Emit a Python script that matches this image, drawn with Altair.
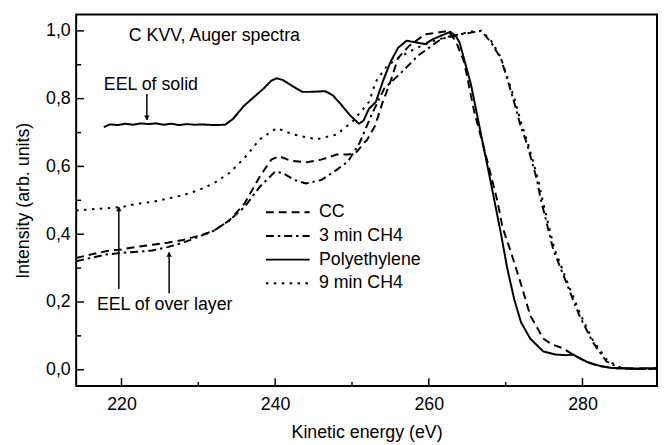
import altair as alt
import pandas as pd

FONT = "Liberation Sans"

# ---- series (Kinetic energy eV, intensity) ----
cc_e = [214.1, 216, 218, 220, 222, 224, 226, 228, 230, 232, 234, 236, 238, 239.5, 240.5, 242, 244, 246, 248, 249.5,
        250.5, 252, 253, 254, 255, 256, 257.4, 259.5, 261.2, 262.5, 263.5, 264.6, 265.9, 267.6, 268.9, 269.6, 270.5,
        271.2, 271.9, 273.2, 274.9, 276, 277.5, 278.8, 280, 281, 282, 284, 286, 289.7]
cc_i = [0.33, 0.34, 0.35, 0.355, 0.363, 0.369, 0.375, 0.383, 0.395, 0.41, 0.44, 0.49, 0.57, 0.62, 0.63, 0.617, 0.612,
        0.62, 0.635, 0.635, 0.64, 0.68, 0.72, 0.79, 0.85, 0.92, 0.955, 0.99, 0.995, 1.0, 0.97, 0.908, 0.762, 0.617,
        0.5, 0.42, 0.36, 0.31, 0.26, 0.16, 0.092, 0.075, 0.063, 0.044, 0.03, 0.02, 0.012, 0.005, 0.003, 0.003]

m3_e = [214.1, 216, 218, 220, 222, 224, 226, 228, 230, 232, 234, 236, 238, 240, 241, 242.5, 244, 246, 248, 249.5,
        251, 252.5, 254.2, 256.5, 258.6, 261.6, 264.2, 266.8, 268.1, 269.4, 270.2, 271.1, 271.9, 272.8, 274.1, 274.5,
        276.2, 277.9, 279.6, 281.3, 283.1, 284.8, 287, 289.7]
m3_i = [0.32, 0.33, 0.34, 0.345, 0.348, 0.352, 0.362, 0.375, 0.392, 0.41, 0.44, 0.48, 0.54, 0.585, 0.58, 0.56, 0.55,
        0.56, 0.59, 0.615, 0.67, 0.75, 0.83, 0.879, 0.927, 0.976, 0.99, 1.0, 0.966, 0.917, 0.859, 0.79, 0.723, 0.665,
        0.558, 0.51, 0.354, 0.257, 0.16, 0.083, 0.025, 0.005, 0.002, 0.003]

pe_e = [217.7, 218.5, 219.5, 220.5, 221.5, 222.5, 223.5, 224.5, 225.5, 226.5, 227.5, 228.5, 229.5, 230.5, 232, 233.5,
        234.5, 236, 238.5, 239.5, 240.2, 241, 242.4, 243.5, 244.5, 246.5, 247.5, 248.5, 249.7, 250.9, 251.5, 252.2,
        253.1, 254, 255, 256, 257.1, 258.3, 259.5, 260.5, 261.5, 262.8, 263.5, 264, 265.5, 266.8, 268.1, 269.4, 270.2,
        271.1, 272, 273.2, 274.9, 276.5, 277.9, 278.8, 279.8, 280.9, 282.5, 283.9, 287, 289.7]
pe_i = [0.716, 0.724, 0.722, 0.726, 0.723, 0.727, 0.725, 0.727, 0.723, 0.726, 0.722, 0.725, 0.723, 0.724, 0.722, 0.723,
        0.74, 0.78, 0.83, 0.853, 0.86, 0.855, 0.835, 0.82, 0.82, 0.822, 0.81, 0.785, 0.752, 0.726, 0.735, 0.77,
        0.79, 0.85, 0.908, 0.95, 0.971, 0.966, 0.961, 0.975, 0.985, 0.997, 0.985, 0.966, 0.84, 0.694, 0.549, 0.40, 0.30,
        0.209, 0.14, 0.092, 0.054, 0.045, 0.043, 0.045, 0.032, 0.02, 0.01, 0.005, 0.004, 0.005]

m9_e = [214.1, 217, 220, 222, 224, 226, 228, 230, 232, 234, 236, 238, 240.2, 242.4, 245.4, 248, 250.1, 252.2, 253.1,
        254.5, 256, 258, 260, 262, 264, 265.5, 266.8, 268, 269.3, 270.2, 271.2, 272, 273, 274.3, 274.7, 276.3, 278,
        279.7, 281.4, 283.2, 285, 287, 289.7]
m9_i = [0.47, 0.475, 0.48, 0.49, 0.495, 0.505, 0.515, 0.53, 0.55, 0.58, 0.625, 0.68, 0.713, 0.694, 0.68, 0.694, 0.733,
        0.79, 0.85, 0.895, 0.92, 0.945, 0.965, 0.98, 0.99, 0.998, 1.0, 0.975, 0.925, 0.865, 0.795, 0.73, 0.66, 0.555,
        0.51, 0.36, 0.26, 0.165, 0.085, 0.028, 0.006, 0.002, 0.002]

series_names = ["CC", "3 min CH4", "Polyethylene", "9 min CH4"]
dash_styles = [[8, 5], [8, 4, 2.5, 4], [1, 0], [2.5, 5.5]]

# legend rows (label positions in data units)
legend_rows = [0.465, 0.395, 0.325, 0.255]
legend_line_e = [238.8, 244.5]
legend_text_e = 245.7

# annotations
note_texts = ["C KVV, Auger spectra", "EEL of solid", "EEL of over layer"]
note_e = [220.95, 217.7, 216.8]
note_i = [0.986, 0.841, 0.191]

arrow_e = [223.3, 219.65, 226.2]
arrow_from = [0.814, 0.238, 0.226]
arrow_to = [0.738, 0.48, 0.346]
arrow_dir = ["down", "up", "up"]

x_major = [220, 240, 260, 280]
x_minor = [230, 250, 270]
y_major = [0.0, 0.2, 0.4, 0.6, 0.8, 1.0]
y_minor = [0.1, 0.3, 0.5, 0.7, 0.9]

X_DOM = [214.1, 289.7]
Y_DOM = [-0.048, 1.048]
W, H = 588, 376

# ---- build tables ----
rows = []
for name, es, is_ in zip(series_names, [cc_e, m3_e, pe_e, m9_e], [cc_i, m3_i, pe_i, m9_i]):
    for k, (e, i) in enumerate(zip(es, is_)):
        rows.append({"series": name, "E": e, "I": i, "k": k})
df = pd.DataFrame(rows)

leg = []
for name, yv in zip(series_names, legend_rows):
    for k, e in enumerate(legend_line_e):
        leg.append({"series": name, "E": e, "I": yv, "k": k})
leg_df = pd.DataFrame(leg)
leg_txt = pd.DataFrame({"label": series_names, "E": [legend_text_e] * 4, "I": legend_rows})

notes_df = pd.DataFrame({"t": note_texts, "E": note_e, "I": note_i})
arrows_df = pd.DataFrame({"E": arrow_e, "I1": arrow_from, "I2": arrow_to, "dir": arrow_dir})
down_df = arrows_df[arrows_df["dir"] == "down"].reset_index(drop=True)
up_df = arrows_df[arrows_df["dir"] == "up"].reset_index(drop=True)

xs = alt.Scale(domain=X_DOM, nice=False, zero=False)
ys = alt.Scale(domain=Y_DOM, nice=False, zero=False)
dash_scale = alt.Scale(domain=series_names, range=dash_styles)

xax = alt.Axis(values=x_major, ticks=False, domain=False, grid=False, labelFontSize=18, labelFont=FONT,
               labelColor="black", labelPadding=10, title="Kinetic energy (eV)", titleFontSize=18,
               titleFont=FONT, titleFontWeight="normal", titleColor="black", titleY=38)
yax = alt.Axis(values=y_major, ticks=False, domain=False, grid=False, labelFontSize=18, labelFont=FONT,
               labelColor="black", labelPadding=6,
               labelExpr="replace(format(datum.value, '.1f'), '.', ',')",
               title="Intensity (arb. units)", titleFontSize=18, titleFont=FONT, titleFontWeight="normal",
               titleColor="black", titleX=-44)

lines = alt.Chart(df).mark_line(color="black", strokeWidth=2, strokeCap="butt").encode(
    x=alt.X("E:Q", scale=xs, axis=xax),
    y=alt.Y("I:Q", scale=ys, axis=yax),
    strokeDash=alt.StrokeDash("series:N", scale=dash_scale, legend=None),
    detail="series:N",
    order="k:Q",
)

leg_lines = alt.Chart(leg_df).mark_line(color="black", strokeWidth=2, strokeCap="butt").encode(
    x=alt.X("E:Q", scale=xs),
    y=alt.Y("I:Q", scale=ys),
    strokeDash=alt.StrokeDash("series:N", scale=dash_scale, legend=None),
    detail="series:N",
    order="k:Q",
)

leg_labels = alt.Chart(leg_txt).mark_text(align="left", baseline="middle", fontSize=18, font=FONT,
                                          color="black").encode(
    x=alt.X("E:Q", scale=xs), y=alt.Y("I:Q", scale=ys), text="label:N")

notes = alt.Chart(notes_df).mark_text(align="left", baseline="middle", fontSize=18, font=FONT,
                                      color="black").encode(
    x=alt.X("E:Q", scale=xs), y=alt.Y("I:Q", scale=ys), text="t:N")

shafts = alt.Chart(arrows_df).mark_rule(color="black", strokeWidth=1.5).encode(
    x=alt.X("E:Q", scale=xs), y=alt.Y("I1:Q", scale=ys), y2="I2:Q")

heads_down = alt.Chart(down_df).mark_point(
    shape="triangle-down", size=22, filled=True, fill="black", stroke="black", strokeWidth=0.5,
    opacity=1, yOffset=-2).encode(
    x=alt.X("E:Q", scale=xs), y=alt.Y("I2:Q", scale=ys))
heads_up = alt.Chart(up_df).mark_point(
    shape="triangle-up", size=22, filled=True, fill="black", stroke="black", strokeWidth=0.5,
    opacity=1, yOffset=2).encode(
    x=alt.X("E:Q", scale=xs), y=alt.Y("I2:Q", scale=ys))

# inward ticks
xt_major = pd.DataFrame({"v": x_major})
xt_minor = pd.DataFrame({"v": x_minor})
yt_major = pd.DataFrame({"v": y_major})
yt_minor = pd.DataFrame({"v": y_minor})
xticks_M = alt.Chart(xt_major).mark_rule(color="black", strokeWidth=1.5).encode(
    x=alt.X("v:Q", scale=xs), y=alt.value(H), y2=alt.value(H - 8))
xticks_m = alt.Chart(xt_minor).mark_rule(color="black", strokeWidth=1.5).encode(
    x=alt.X("v:Q", scale=xs), y=alt.value(H), y2=alt.value(H - 4))
yticks_M = alt.Chart(yt_major).mark_rule(color="black", strokeWidth=1.5).encode(
    y=alt.Y("v:Q", scale=ys), x=alt.value(0), x2=alt.value(8))
yticks_m = alt.Chart(yt_minor).mark_rule(color="black", strokeWidth=1.5).encode(
    y=alt.Y("v:Q", scale=ys), x=alt.value(0), x2=alt.value(5))

chart = alt.layer(lines, leg_lines, leg_labels, notes, shafts, heads_down, heads_up,
                  xticks_M, xticks_m, yticks_M, yticks_m).properties(
    width=W, height=H,
    autosize=alt.AutoSizeParams(type="none"),
    padding={"left": 69, "top": 4, "right": 2, "bottom": 57},
).configure(background="white", view=alt.ViewConfig(stroke="black", strokeWidth=2))

chart.save("out.html", embed_options={"renderer": "svg", "actions": False})
